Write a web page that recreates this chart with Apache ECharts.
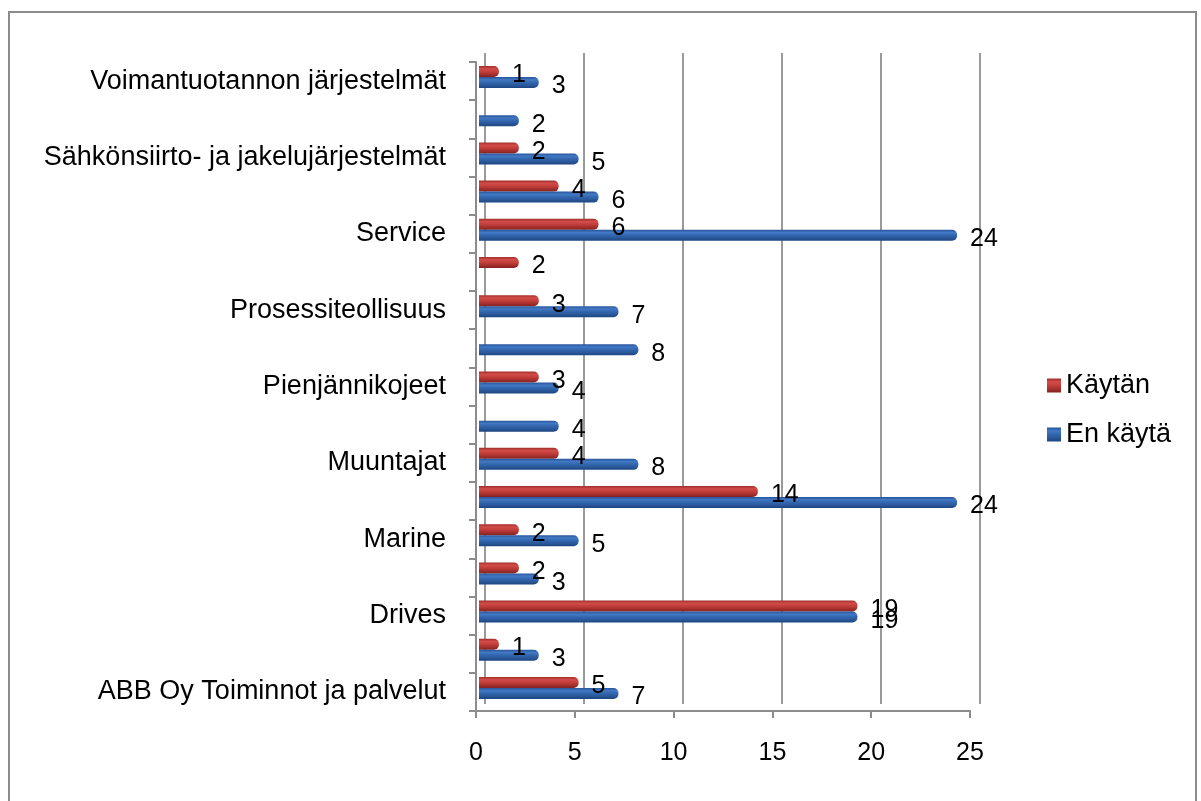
<!DOCTYPE html>
<html>
<head>
<meta charset="utf-8">
<script src="https://cdn.jsdelivr.net/npm/echarts@6/dist/echarts.min.js"></script>
<style>
  html, body { margin: 0; padding: 0; background: #ffffff; }
  #chart { width: 1201px; height: 801px; }
</style>
</head>
<body>
<div id="chart"></div>
<script>
// Categories from bottom to top; unlabelled rows are blank.
const categories = [
  'ABB Oy Toiminnot ja palvelut', '',
  'Drives', '',
  'Marine', '',
  'Muuntajat', '',
  'Pienjännikojeet', '',
  'Prosessiteollisuus', '',
  'Service', '',
  'Sähkönsiirto- ja jakelujärjestelmät', '',
  'Voimantuotannon järjestelmät'
];
const kaytanValues   = [5, 1, 19, 2, 2, 14, 4, null, 3, null, 3, 2, 6, 4, 2, null, 1];
const enKaytaValues  = [7, 3, 19, 3, 5, 24, 8, 4, 4, 8, 7, null, 24, 6, 5, 2, 3];
const seriesNames = ['Käytän', 'En käytä'];
const xTicks = { min: 0, max: 25, interval: 5 };

const FONT = '"Liberation Sans", Arial, sans-serif';

function cylinder(stops) {
  return new echarts.graphic.LinearGradient(0, 0, 0, 1, stops.map((c, i) => ({ offset: i / (stops.length - 1), color: c })));
}
const redFill  = cylinder(['#a02e2b', '#d24c48', '#c33f3b', '#a5302d', '#842220']);
const blueFill = cylinder(['#28549a', '#4279c4', '#3266ad', '#2a579a', '#1c4580']);

const chart = echarts.init(document.getElementById('chart'), null, { renderer: 'canvas' });

const valueLabel = {
  show: true,
  position: 'right',
  distance: 13,
  offset: [0, 4],
  color: '#000',
  fontFamily: FONT,
  fontSize: 25
};

chart.setOption({
  animation: false,
  backgroundColor: '#ffffff',
  textStyle: { fontFamily: FONT },
  graphic: [{
    type: 'rect',
    shape: { x: 9, y: 12, width: 1187, height: 810 },
    style: { fill: 'none', stroke: '#8c8c8c', lineWidth: 2 },
    silent: true
  }],
  legend: {
    orient: 'vertical',
    left: 1042,
    top: 367,
    itemWidth: 14,
    itemHeight: 14,
    itemGap: 22,
    icon: 'rect',
    data: seriesNames,
    textStyle: { fontFamily: FONT, fontSize: 27, color: '#000' }
  },
  grid: [
    // floor: value scale labels and category axis
    { left: 476, right: 231, top: 62, bottom: 90 },
    // back wall: vertical gridlines
    { left: 485, right: 221, top: 53, bottom: 97 },
    // bars
    { left: 479, right: 224, top: 58, bottom: 94 }
  ],
  xAxis: [
    {
      gridIndex: 0, type: 'value', min: xTicks.min, max: xTicks.max, interval: xTicks.interval,
      axisLine: { show: true, lineStyle: { color: '#8c8c8c', width: 2 } },
      axisTick: { show: true, length: 7, lineStyle: { color: '#8c8c8c', width: 2 } },
      splitLine: { show: false },
      axisLabel: { color: '#000', fontFamily: FONT, fontSize: 25, margin: 30 }
    },
    {
      gridIndex: 1, type: 'value', min: xTicks.min, max: xTicks.max, interval: xTicks.interval,
      axisLine: { show: false }, axisTick: { show: false }, axisLabel: { show: false },
      splitLine: { show: true, lineStyle: { color: '#9a9a9a', width: 2 } }
    },
    {
      gridIndex: 2, type: 'value', min: xTicks.min, max: xTicks.max, interval: xTicks.interval,
      show: false, splitLine: { show: false }
    }
  ],
  yAxis: [
    {
      gridIndex: 0, type: 'category', data: categories,
      axisLine: { show: true, lineStyle: { color: '#8c8c8c', width: 2 } },
      axisTick: { show: true, length: 7, interval: 0, lineStyle: { color: '#8c8c8c', width: 2 } },
      axisLabel: { interval: 0, color: '#000', fontFamily: FONT, fontSize: 27, margin: 30 }
    },
    {
      gridIndex: 1, type: 'category', data: categories, show: false
    },
    {
      gridIndex: 2, type: 'category', data: categories, show: false
    }
  ],
  series: [
    {
      name: seriesNames[0], type: 'bar', xAxisIndex: 2, yAxisIndex: 2,
      data: kaytanValues, barWidth: 11, barGap: '0%',
      itemStyle: { color: redFill, borderRadius: [0, 5, 5, 0] },
      label: valueLabel
    },
    {
      name: seriesNames[1], type: 'bar', xAxisIndex: 2, yAxisIndex: 2,
      data: enKaytaValues, barWidth: 11, barGap: '0%',
      itemStyle: { color: blueFill, borderRadius: [0, 5, 5, 0] },
      label: valueLabel
    }
  ]
});
</script>
</body>
</html>
